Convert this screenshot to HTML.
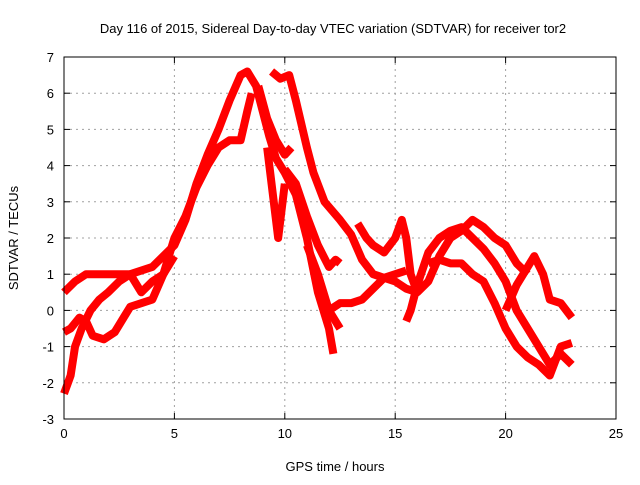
<!DOCTYPE html>
<html><head><meta charset="utf-8"><style>
body{margin:0;background:#fff;font-family:"Liberation Sans",sans-serif}
svg text{font-family:"Liberation Sans",sans-serif;font-size:13px;fill:#000}
</style></head><body>
<svg id="chart" width="640" height="480" xmlns="http://www.w3.org/2000/svg">
<text x="333" y="33" text-anchor="middle">Day 116 of 2015, Sidereal Day-to-day VTEC variation (SDTVAR) for receiver tor2</text>
<text x="335" y="471" text-anchor="middle">GPS time / hours</text>
<text transform="translate(18,238) rotate(-90)" text-anchor="middle">SDTVAR / TECUs</text>
<g id="grid"></g>
<g id="ticks"></g>
<g id="series"></g>
<rect x="64" y="57" width="552" height="362" fill="none" stroke="#000" stroke-width="1"/>
</svg>
<script>
const xTicks=[0,5,10,15,20,25];
const yTicks=[-3,-2,-1,0,1,2,3,4,5,6,7];
const trackA=[[0,0.5],[0.5,0.8],[1,1.0],[2,1.0],[3,1.0],[4,1.2],[5,1.8],[5.5,2.5],[6,3.5],[6.5,4.3],[7,5.0],[7.5,5.8],[8,6.5],[8.3,6.6],[8.7,6.2],[9,5.5],[9.3,4.8],[9.6,4.2],[10,3.8],[10.5,3.2],[11,2.0],[11.5,0.5],[12,-0.5],[12.2,-1.2]];
const trackB=[[0,-0.6],[0.3,-0.5],[0.7,-0.2],[1,-0.3],[1.3,-0.7],[1.8,-0.8],[2.3,-0.6],[2.7,-0.2],[3,0.1],[3.5,0.2],[4,0.3],[4.5,1.0],[5,2.0],[5.5,2.6],[6,3.4],[6.5,4.0],[7,4.5],[7.5,4.7],[8,4.7],[8.3,5.5],[8.5,6.0]];
const trackC=[[0,-2.3],[0.3,-1.8],[0.5,-1.0],[0.8,-0.5],[1.2,0.0],[1.6,0.3],[2,0.5],[2.5,0.8],[3,1.0],[3.5,0.5],[4,0.8],[4.5,1.0],[5,1.5]];
const trackD=[[9.4,6.6],[9.8,6.4],[10.2,6.5],[10.5,5.8],[11,4.5],[11.3,3.8],[11.8,3.0],[12.5,2.5],[13,2.1],[13.5,1.4],[14,1.0],[14.5,0.9],[15,0.8],[15.5,0.6],[16,0.5],[16.5,0.8],[17,1.5],[17.5,2.0],[18,2.2],[18.5,2.5],[19,2.3],[19.5,2.0],[20,1.8],[20.5,1.3],[21,1.0]];
const trackE=[[8.8,6.2],[9.2,5.3],[9.6,4.7],[10,4.3],[10.3,4.5]];
const trackE2=[[9.2,4.5],[9.5,3.0],[9.7,2.0],[9.9,3.0],[10,3.5]];
const trackF=[[10,3.9],[10.5,3.5],[11,2.6],[11.5,1.8],[12,1.2],[12.3,1.4],[12.5,1.3]];
const trackF2=[[11,1.8],[11.5,1.0],[12,0.0],[12.5,-0.5]];
const trackG=[[12,0.0],[12.5,0.2],[13,0.2],[13.5,0.3],[14,0.6],[14.5,0.9],[15.5,1.1]];
const trackH=[[13.3,2.4],[13.7,2.0],[14,1.8],[14.5,1.6],[15,2.0],[15.3,2.5],[15.5,2.0],[15.7,1.0],[16,0.5]];
const trackI=[[15.5,-0.3],[15.7,0.0],[16,0.7],[16.5,1.6],[17,2.0],[17.5,2.2],[18,2.3],[18.5,2.0],[19,1.7],[19.5,1.3],[20,0.8],[20.5,0.0],[21,-0.5],[21.5,-1.0],[22,-1.5],[22.5,-1.2],[23,-1.5]];
const trackJ=[[20,0.0],[20.5,0.7],[21,1.2],[21.3,1.5],[21.7,1.0],[22,0.3],[22.5,0.2],[23,-0.2]];
const trackK=[[16.5,1.3],[17,1.4],[17.5,1.3],[18,1.3],[18.5,1.0],[19,0.8],[19.5,0.2],[20,-0.5],[20.5,-1.0],[21,-1.3],[21.5,-1.5],[22,-1.8],[22.5,-1.0],[23,-0.9]];
const tracks=[trackA,trackB,trackC,trackD,trackE,trackE2,trackF,trackF2,trackG,trackH,trackI,trackJ,trackK];

const NS="http://www.w3.org/2000/svg";
const X0=64,X1=616,Y0=419,Y1=57;
function xs(t){return X0+(t-0)/(25-0)*(X1-X0);}
function ys(v){return Y0-(v+3)/10*(Y0-Y1);}
const grid=document.getElementById('grid'),ticks=document.getElementById('ticks'),ser=document.getElementById('series');
function mk(tag,attrs,parent){const e=document.createElementNS(NS,tag);for(const k in attrs)e.setAttribute(k,attrs[k]);parent.appendChild(e);return e;}
xTicks.forEach(t=>{
  const x=xs(t);
  if(t>0&&t<25){const g=mk('line',{x1:x,x2:x,y1:Y1,y2:Y0,stroke:'#a0a0a0','stroke-dasharray':'2,4'},grid);
  
  }
  mk('line',{x1:x,x2:x,y1:Y0,y2:Y0-6,stroke:'#000'},ticks);
  mk('line',{x1:x,x2:x,y1:Y1,y2:Y1+6,stroke:'#000'},ticks);
  const l=mk('text',{x:x,y:Y0+19,'text-anchor':'middle'},ticks);l.textContent=t;
  
  
});
yTicks.forEach(v=>{
  const y=ys(v);
  if(v>-3&&v<7){const g=mk('line',{x1:X0,x2:X1,y1:y,y2:y,stroke:'#a0a0a0','stroke-dasharray':'2,4'},grid);
  
  }
  mk('line',{x1:X0,x2:X0+6,y1:y,y2:y,stroke:'#000'},ticks);
  mk('line',{x1:X1,x2:X1-6,y1:y,y2:y,stroke:'#000'},ticks);
  const l=mk('text',{x:X0-10,y:y+5,'text-anchor':'end'},ticks);l.textContent=v;
  
  
});
tracks.forEach(tr=>{
  const p=mk('polyline',{points:tr.map(d=>xs(d[0])+','+ys(d[1])).join(' '),fill:'none',stroke:'#ff0000','stroke-width':8,'stroke-linejoin':'round','stroke-linecap':'butt'},ser);
  
  
});
</script>
</body></html>
